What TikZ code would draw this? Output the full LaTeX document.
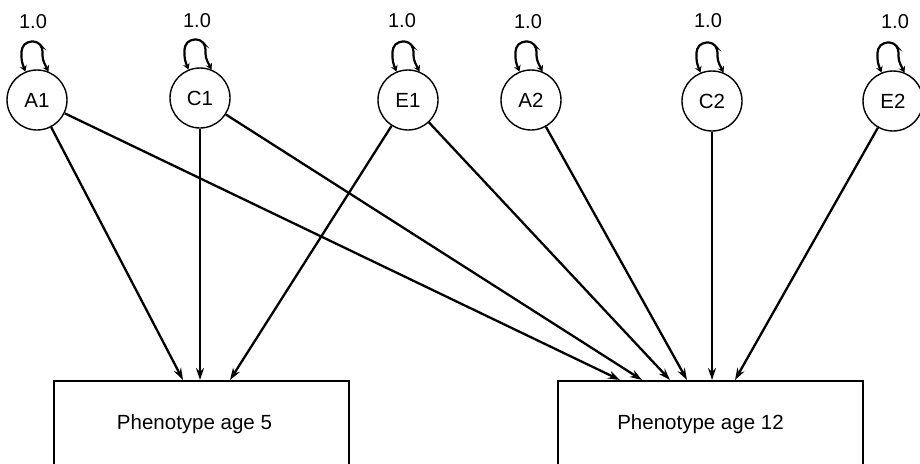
\documentclass[tikz,border=0pt]{standalone}
\usepackage{fontspec}
\setmainfont{Liberation Sans}
\usetikzlibrary{arrows.meta}
\begin{document}
\begin{tikzpicture}[x=1pt,y=-1pt,
  lat/.style={draw,circle,line width=1.4pt,minimum size=60pt,inner sep=0pt,font=\fontsize{20.5}{24}\selectfont},
  obs/.style={draw,rectangle,line width=2.2pt,anchor=north,minimum width=#1,inner sep=0pt,
     text height=48pt,text depth=60pt,font=\fontsize{20.5}{24}\selectfont},
  val/.style={inner sep=0pt,font=\fontsize{20}{24}\selectfont},
  path/.style={line width=2.3pt,-{Stealth[length=12pt,width=8pt]}},
  var/.style={line width=2.2pt,rounded corners=4pt,{Stealth[length=6pt,width=7pt]}-{Stealth[length=6pt,width=7pt]}}]
\clip (0,0) rectangle (920,463);
\fill[white] (0,0) rectangle (920,463);
% latent factors
\node[lat] (A1) at (37,100) {A1};
\node[lat] (C1) at (200,98) {C1};
\node[lat] (E1) at (408,100) {E1};
\node[lat] (A2) at (531,100) {A2};
\node[lat] (C2) at (712,101) {C2};
\node[lat] (E2) at (893,101) {E2};
% variance labels
\node[val] (vA1) at (33,22) {1.0};
\node[val] (vC1) at (197,21) {1.0};
\node[val] (vE1) at (402,21) {1.0};
\node[val] (vA2) at (528,22) {1.0};
\node[val] (vC2) at (708,21) {1.0};
\node[val] (vE2) at (895,22) {1.0};
% variance loops
\foreach \n in {A1,C1,E1,A2,C2,E2}{
  \draw[var] (\n.112) -- ++(-4,-10) -- ++(0,-14) -- ++(6,-6) -- ++(10,0) -- ++(5,6) -- ++(0,12) -- (\n.68);
}
% observed boxes
\node[obs=295pt] (P5) at (201.5,380) {Phenotype age 5\hspace*{14pt}};
\node[obs=305pt] (P12) at (710.5,380) {Phenotype age 12\hspace*{20pt}};
% arrow end points on box tops
\coordinate (a5) at (183,380);
\coordinate (c5) at (200,380);
\coordinate (e5) at (230,380);
\coordinate (a12) at (620,380);
\coordinate (c12) at (642,380);
\coordinate (e12) at (670,380);
\coordinate (a212) at (687,380);
\coordinate (c212) at (712,380);
\coordinate (e212) at (735,380);
% paths
\draw[path] (A1) -- (a5);
\draw[path] (C1) -- (c5);
\draw[path] (E1) -- (e5);
\draw[path] (A1) -- (a12);
\draw[path] (C1) -- (c12);
\draw[path] (E1) -- (e12);
\draw[path] (A2) -- (a212);
\draw[path] (C2) -- (c212);
\draw[path] (E2) -- (e212);
\end{tikzpicture}
\end{document}
